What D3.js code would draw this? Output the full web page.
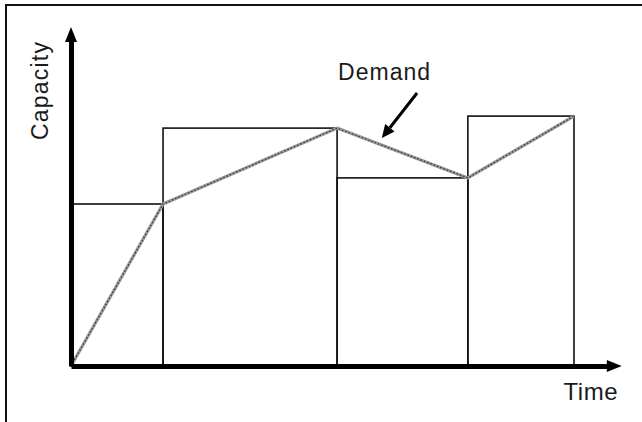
<!DOCTYPE html>
<html><head><meta charset="utf-8">
<script src="https://cdn.jsdelivr.net/npm/d3@7"></script>
<style>
html,body{margin:0;padding:0;background:#fff;}
svg{display:block;}
text{font-family:"Liberation Sans",Arial,sans-serif;fill:#1a1a1a;}
</style></head>
<body><div id="chart"></div>
<script>
// Period boundaries along the time axis (time units)
const periodStarts = [0, 18.3, 52.9, 78.9];
const periodEnds   = [18.3, 52.9, 78.9, 100];
// Capacity level in each period
const capacity = [54, 79.3, 62.7, 83.3];
// Demand curve points
const demandTime  = [0, 18.3, 52.9, 78.9, 100];
const demandValue = [0, 54, 79.3, 62.7, 83.3];
// Axis labels
const xLabel = "Time";
const yLabel = "Capacity";
const demandLabel = "Demand";

const W = 642, H = 422;
const svg = d3.select("#chart").append("svg").attr("width", W).attr("height", H);

const x = d3.scaleLinear().domain([0, 100]).range([71, 574]);
const y = d3.scaleLinear().domain([0, 100]).range([366, 66]);
const xMax = 109.5, yMax = 113;

// outer frame (cut off at right and bottom)
svg.append("rect").attr("x", 6).attr("y", 5).attr("width", W + 20).attr("height", H + 20)
  .attr("fill", "none").attr("stroke", "#111").attr("stroke-width", 2);

// capacity bars
svg.append("g").selectAll("rect").data(capacity).join("rect")
  .attr("x", (d, i) => x(periodStarts[i]))
  .attr("width", (d, i) => x(periodEnds[i]) - x(periodStarts[i]))
  .attr("y", d => y(d))
  .attr("height", d => y(0) - y(d))
  .attr("fill", "none").attr("stroke", "#111").attr("stroke-width", 1.6);

// demand line
const pts = demandTime.map((t, i) => [t, demandValue[i]]);
const line = d3.line().x(d => x(d[0])).y(d => y(d[1]));
svg.append("path").datum(pts).attr("d", line)
  .attr("fill", "none").attr("stroke", "#9a9a9a").attr("stroke-width", 3.2).attr("stroke-linejoin", "round");
svg.append("path").datum(pts).attr("d", line)
  .attr("fill", "none").attr("stroke", "#333").attr("stroke-width", 1.2).attr("stroke-dasharray", "1.5,2");

// axes (no ticks) with arrowheads
const xAxisScale = d3.scaleLinear().domain([0, xMax - 2]).range([x(0), x(xMax - 2)]);
const yAxisScale = d3.scaleLinear().domain([0, yMax - 2]).range([y(0), y(yMax - 2)]);
const gx = svg.append("g").attr("transform", `translate(0,${y(0)})`)
  .call(d3.axisBottom(xAxisScale).tickValues([]).tickSizeOuter(0));
const gy = svg.append("g").attr("transform", `translate(${x(0)},0)`)
  .call(d3.axisLeft(yAxisScale).tickValues([]).tickSizeOuter(0));
[gx, gy].forEach(g => g.select(".domain").attr("stroke", "#000").attr("stroke-width", 5));

// arrowheads
const tipX = x(xMax), tipY = y(yMax);
svg.append("path")
  .attr("d", `M${tipX},${y(0)} L${tipX - 15},${y(0) - 6} L${tipX - 15},${y(0) + 6} Z`)
  .attr("fill", "#000");
svg.append("path")
  .attr("d", `M${x(0)},${tipY} L${x(0) - 6},${tipY + 15} L${x(0) + 6},${tipY + 15} Z`)
  .attr("fill", "#000");

// axis labels
svg.append("text").attr("x", 618).attr("y", 400).attr("text-anchor", "end")
  .style("font-size", "24px").style("letter-spacing", "0.5px").text(xLabel);
svg.append("text").attr("transform", `translate(48,140) rotate(-90)`)
  .style("font-size", "23px").style("letter-spacing", "1.2px").text(yLabel);

// Demand annotation
const lab = [53.1, 95.3], tail = [68.8, 91], head = [61.8, 76];
svg.append("text").attr("x", x(lab[0])).attr("y", y(lab[1]))
  .style("font-size", "23px").style("letter-spacing", "1px").text(demandLabel);
const hx = x(head[0]), hy = y(head[1]), tx = x(tail[0]), ty = y(tail[1]);
const ang = Math.atan2(hy - ty, hx - tx);
const hl = 13, hw = 6;
const bx = hx - hl * Math.cos(ang), by = hy - hl * Math.sin(ang);
svg.append("line").attr("x1", tx).attr("y1", ty).attr("x2", bx).attr("y2", by)
  .attr("stroke", "#000").attr("stroke-width", 3);
svg.append("path")
  .attr("d", `M${hx},${hy} L${bx + hw * Math.sin(ang)},${by - hw * Math.cos(ang)} L${bx - hw * Math.sin(ang)},${by + hw * Math.cos(ang)} Z`)
  .attr("fill", "#000");
</script></body></html>
